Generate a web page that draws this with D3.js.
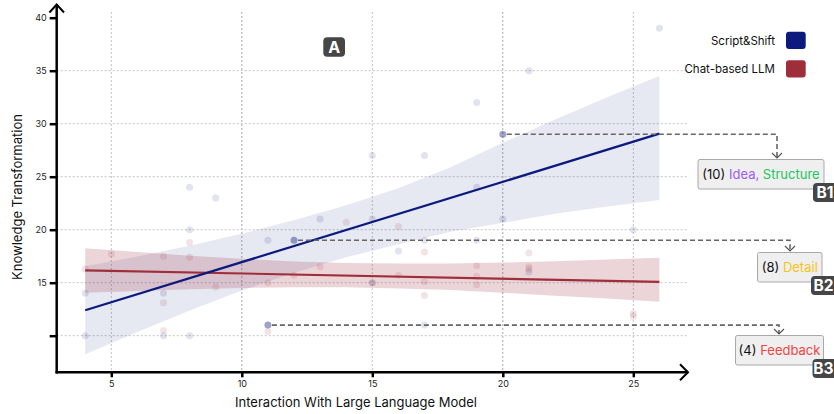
<!DOCTYPE html>
<html><head><meta charset="utf-8">
<script src="https://cdn.jsdelivr.net/npm/d3@7"></script>
<style>body{margin:0;background:#fff}svg{display:block;font-family:Inter,"Noto Sans",sans-serif}</style>
</head><body><svg id="c" width="834" height="414"></svg>
<script>
// ---------- data ----------
const xTicks = [5, 10, 15, 20, 25];
const yTicks = [10, 15, 20, 25, 30, 35, 40];
const yTickLabels = ["", "15", "20", "25", "30", "35", "40"];
const seriesNames = ["Script&Shift", "Chat-based LLM"];

const scriptX = [4,4,7,7,8,8,8,9,11,11,12,13,15,15,15,16,17,17,17,19,19,19,20,20,21,21,25,26];
const scriptY = [14,10,14,10,24,20,10,23,19,11,19,21,27,21,15,18,27,19,11,32,24,19,29,21,35,16,20,39];

const chatX = [4,5,7,7,7,8,8,9,11,11,12,13,14,15,16,16,17,17,17,19,19,19,21,21,21,25,25];
const chatY = [16.3,17.7,17.5,13.1,10.5,18.8,17.4,14.6,15,10.4,15.7,16.5,20.7,15,20.3,15.7,17.9,15.1,13.8,16.6,15.6,14.8,17.8,16.5,16.3,12.1,11.8];

const fitX = [4, 26];
const scriptFit = [12.4, 29.06];
const chatFit = [16.17, 15.07];

const bandX = [4,6,8,10,12,14,16,18,20,22,24,26];
const scriptLo = [8.25,10.35,12.38,14.26,15.95,17.4,18.62,19.8,20.65,21.5,22.2,22.8];
const scriptHi = [16.55,17.47,18.48,19.62,20.9,22.3,23.9,25.9,28.2,30.4,32.5,34.5];
const chatLo = [14.05,14.22,14.38,14.5,14.57,14.56,14.46,14.3,14.05,13.78,13.5,13.2];
const chatHi = [18.25,17.9,17.55,17.25,17.0,16.85,16.8,16.82,16.9,17.03,17.18,17.36];

const highlightX = [20, 12, 11];
const highlightY = [29, 19, 11];
const noteCounts = ["(10) ", "(8) ", "(4) "];
const noteWords = [["Idea, ", "Structure"], ["Detail"], ["Feedback"]];
const noteBadges = ["B1", "B2", "B3"];
const panelLabel = "A";

// ---------- styles / layout ----------
const blue = "#0c1a7d", red = "#9e2f3a";
const wordColors = [["#9b5cf6", "#22c55e"], ["#f5c518"], ["#ef4444"]];
const noteLayout = [
  {hx: 777, bx: 698, by: 159.5, bw: 126, bh: 29.5},
  {hx: 790, bx: 757.5, by: 252.5, bw: 64.5, bh: 29.5},
  {hx: 779, bx: 735.5, by: 335.5, bw: 88, bh: 29.5}
];

const svg = d3.select("#c");
const x = d3.scaleLinear().domain([5, 25]).range([111.3, 633.3]);
const y = d3.scaleLinear().domain([10, 40]).range([335.7, 17.7]);
const axX = 56.7, axY = 372.3, right = 688;

// grid
const g = svg.append("g");
g.selectAll(".vg").data(xTicks).join("line")
  .attr("x1", d => x(d)).attr("x2", d => x(d)).attr("y1", 12).attr("y2", axY)
  .attr("stroke", d => (d === 10 || d === 20) ? "#a8a8a8" : "#c2c2c2")
  .attr("stroke-width", 1).attr("stroke-dasharray", "2,2");
g.selectAll(".hg").data(yTicks.filter(d => d < 40)).join("line")
  .attr("x1", axX).attr("x2", right).attr("y1", d => y(d)).attr("y2", d => y(d))
  .attr("stroke", "#c4c4c4").attr("stroke-width", 1).attr("stroke-dasharray", "2,2");

// bands
const area = d3.area().x(d => x(d[0])).y0(d => y(d[1])).y1(d => y(d[2]));
svg.append("path").datum(bandX.map((v, i) => [v, scriptLo[i], scriptHi[i]]))
  .attr("d", area).attr("fill", blue).attr("fill-opacity", 0.1);
svg.append("path").datum(bandX.map((v, i) => [v, chatLo[i], chatHi[i]]))
  .attr("d", area).attr("fill", red).attr("fill-opacity", 0.2);

// points
const isHi = (px, py) => highlightX.some((hx, i) => hx === px && highlightY[i] === py);
svg.append("g").selectAll("circle").data(chatX.map((v, i) => [v, chatY[i]])).join("circle")
  .attr("cx", d => x(d[0])).attr("cy", d => y(d[1])).attr("r", 3.5)
  .attr("fill", red).attr("fill-opacity", 0.13);
svg.append("g").selectAll("circle").data(scriptX.map((v, i) => [v, scriptY[i]])).join("circle")
  .attr("cx", d => x(d[0])).attr("cy", d => y(d[1])).attr("r", 3.5)
  .attr("fill", blue).attr("fill-opacity", d => isHi(d[0], d[1]) ? 0.4 : 0.12);

// fit lines
const line = d3.line().x(d => x(d[0])).y(d => y(d[1]));
svg.append("path").datum(fitX.map((v, i) => [v, chatFit[i]])).attr("d", line)
  .attr("stroke", red).attr("stroke-width", 2.2).attr("fill", "none");
svg.append("path").datum(fitX.map((v, i) => [v, scriptFit[i]])).attr("d", line)
  .attr("stroke", blue).attr("stroke-width", 2.2).attr("fill", "none");

// annotations
noteLayout.forEach((L, i) => {
  const px = x(highlightX[i]) + 4, py = y(highlightY[i]);
  const tipY = L.by - 1.5;
  svg.append("path").attr("d", `M${px},${py}H${L.hx}V${tipY}`)
    .attr("fill", "none").attr("stroke", "#666").attr("stroke-width", 1.6).attr("stroke-dasharray", "5,3");
  svg.append("path").attr("d", `M${L.hx - 5},${tipY - 5}L${L.hx},${tipY}L${L.hx + 5},${tipY - 5}`)
    .attr("fill", "none").attr("stroke", "#555").attr("stroke-width", 1.2);
  svg.append("rect").attr("x", L.bx).attr("y", L.by).attr("width", L.bw).attr("height", L.bh)
    .attr("rx", 2).attr("fill", "#efefef").attr("stroke", "#a8a8a8").attr("stroke-width", 1);
  const t = svg.append("text").attr("x", L.bx + L.bw / 2).attr("y", L.by + L.bh / 2)
    .attr("text-anchor", "middle").attr("dominant-baseline", "central").attr("font-size", 13);
  t.append("tspan").text(noteCounts[i]).attr("fill", "#111");
  noteWords[i].forEach((w, j) => t.append("tspan").text(w).attr("fill", wordColors[i][j]));
  const bx = L.bx + L.bw - 11, byy = L.by + L.bh - 6;
  svg.append("rect").attr("x", bx).attr("y", byy).attr("width", 28).attr("height", 19)
    .attr("rx", 4).attr("fill", "#464646");
  svg.append("text").attr("x", 833.5).attr("y", byy + 9.8).attr("text-anchor", "end")
    .attr("dominant-baseline", "central")
    .attr("font-size", 15.5).attr("font-weight", 700).attr("fill", "#fff").text(noteBadges[i]);
});

// panel label
svg.append("rect").attr("x", 323.3).attr("y", 37.3).attr("width", 21.7).attr("height", 19.4)
  .attr("rx", 4).attr("fill", "#464646");
svg.append("text").attr("x", 334.2).attr("y", 47.2).attr("text-anchor", "middle")
  .attr("dominant-baseline", "central").attr("font-size", 16).attr("font-weight", 700)
  .attr("fill", "#fff").text(panelLabel);

// legend
const legColors = [blue, red];
seriesNames.forEach((n, i) => {
  const cy = 40.5 + i * 28.5;
  svg.append("text").attr("x", 775).attr("y", cy).attr("text-anchor", "end")
    .attr("dominant-baseline", "central").attr("font-size", 11.5).attr("fill", "#111").text(n);
  svg.append("rect").attr("x", 786).attr("y", cy - 8.7).attr("width", 19.7).attr("height", 17.3)
    .attr("rx", 3).attr("fill", legColors[i]);
});

// axes
const ya = svg.append("g").attr("transform", `translate(${axX},0)`)
  .call(d3.axisLeft(y).tickValues(yTicks).tickSize(7).tickPadding(3)
    .tickFormat((d, i) => yTickLabels[i]));
const xa = svg.append("g").attr("transform", `translate(0,${axY})`)
  .call(d3.axisBottom(x).tickValues(xTicks).tickSize(5).tickPadding(3));
[ya, xa].forEach(a => {
  a.select(".domain").remove();
  a.selectAll(".tick line").attr("stroke", "#000").attr("stroke-width", 2.5);
  a.selectAll(".tick text").attr("font-size", 9).attr("fill", "#222").attr("font-family", "Inter,sans-serif");
});
svg.append("path").attr("d", `M${axX},${axY + 1.2}V4.5`).attr("stroke", "#000").attr("stroke-width", 2.5).attr("fill", "none");
svg.append("path").attr("d", `M${axX - 7.3},12.5L${axX},4.5L${axX + 7.3},12.5`).attr("stroke", "#000").attr("stroke-width", 2).attr("fill", "none");
svg.append("path").attr("d", `M${axX - 1.2},${axY}H${right}`).attr("stroke", "#000").attr("stroke-width", 2.5).attr("fill", "none");
svg.append("path").attr("d", `M${right - 8},${axY - 8}L${right},${axY}L${right - 8},${axY + 8}`).attr("stroke", "#000").attr("stroke-width", 2).attr("fill", "none");

// axis titles
svg.append("text").attr("x", 356).attr("y", 401.5).attr("text-anchor", "middle")
  .attr("dominant-baseline", "central").attr("font-size", 13).attr("fill", "#111")
  .text("Interaction With Large Language Model");
svg.append("text").attr("transform", "translate(17,197) rotate(-90)").attr("text-anchor", "middle")
  .attr("dominant-baseline", "central").attr("font-size", 13).attr("fill", "#111")
  .text("Knowledge Transformation");
</script></body></html>
